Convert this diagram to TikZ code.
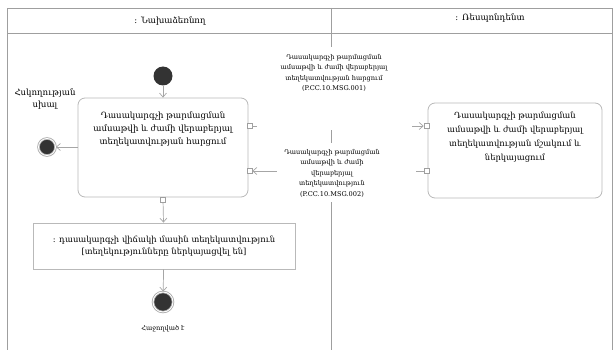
\documentclass[tikz,border=0pt]{standalone}
\usepackage{fontspec}
\setmainfont{DejaVu Serif}
\usetikzlibrary{arrows.meta}
\begin{document}
\begin{tikzpicture}[x=1pt, y=-1pt,
    lane/.style={draw=gray!75, line width=0.9pt},
    action/.style={draw=gray!55, line width=0.8pt, rounded corners=7pt, fill=white},
    objbox/.style={draw=gray!55, line width=0.8pt, fill=white},
    pinbox/.style={rectangle, draw=gray!75, fill=white, line width=0.6pt, minimum size=5pt, inner sep=0pt},
    flow/.style={draw=gray!70, line width=0.7pt, -{Straight Barb[length=4pt, width=7pt]}},
    initnode/.style={circle, fill=black!80, minimum size=19pt, inner sep=0pt},
    finalnode/.style={circle, fill=black!80, draw=gray!70, line width=0.8pt, double=white, double distance=0.9pt, minimum size=#1, inner sep=0pt},
    msg/.style={align=center, font=\fontsize{6.6}{10.5}\selectfont, inner sep=1pt},
    txt/.style={align=center, font=\fontsize{8.6}{13}\selectfont}]
  \useasboundingbox (0,0) rectangle (616,350);
  % lanes
  \draw[lane] (7,350) -- (7,8) -- (612,8) -- (612,350);
  \draw[lane] (7,33) -- (612,33);
  \draw[lane] (331,8) -- (331,350);
  \node[txt] (initiator) at (170,21) {: Նախաձեռնող};
  \node[txt] (respondent) at (490,18) {: Ռեսպոնդենտ};
  % initiator
  \node[initnode] (start) at (163,76) {};
  \node[action, minimum width=170pt, minimum height=99pt,
        label={[txt, below=11pt]north:{Դասակարգչի թարմացման\\ամսաթվի և ժամի վերաբերյալ\\տեղեկատվության հարցում}}]
        (req) at (163,147.5) {};
  \node[pinbox] (reqout) at (249.5,126) {};
  \node[pinbox] (reqin) at (249.5,171) {};
  \node[pinbox] (reqdown) at (163,199.5) {};
  \node[finalnode=17pt] (err) at (47,147) {};
  \node[txt, font=\fontsize{8.6}{12}\selectfont] (errlabel) at (45,99) {Հսկողության\\սխալ};
  \node[objbox, minimum width=262pt, minimum height=46pt, txt, font=\fontsize{8.4}{12}\selectfont]
        (state) at (164,246) {: դասակարգչի վիճակի մասին տեղեկատվություն\\{}[տեղեկությունները ներկայացվել են]};
  \node[finalnode=20pt] (done) at (163,302) {};
  \node[txt, font=\fontsize{6.6}{10}\selectfont] (donelabel) at (163,329) {Հաջողված է};
  % respondent
  \node[action, minimum width=174pt, minimum height=95pt,
        label={[txt, font=\fontsize{8.4}{14}\selectfont, below=6pt]north:{Դասակարգչի թարմացման\\ամսաթվի և ժամի վերաբերյալ\\տեղեկատվության մշակում և\\ներկայացում}}]
        (proc) at (515,150.5) {};
  \node[pinbox] (procin) at (426.5,126) {};
  \node[pinbox] (procout) at (426.5,171) {};
  % flows
  \draw[flow] (start) -- (req);
  \draw[flow] (err -| req.west) -- (err);
  \draw[flow] (reqout) -- (procin);
  \draw[flow] (procout) -- (reqin);
  \draw[flow] (reqdown) -- (state);
  \draw[flow] (state) -- (done);
  % message labels
  \fill[white] (257,47) rectangle (412,130);
  \fill[white] (277,143) rectangle (416,202);
  \node[msg] (msgreq) at (334,73) {Դասակարգչի թարմացման\\ամսաթվի և ժամի վերաբերյալ\\տեղեկատվության հարցում\\(P.CC.10.MSG.001)};
  \node[msg] (msgresp) at (332,173) {Դասակարգչի թարմացման\\ամսաթվի և ժամի\\վերաբերյալ\\տեղեկատվություն\\(P.CC.10.MSG.002)};
\end{tikzpicture}
\end{document}
